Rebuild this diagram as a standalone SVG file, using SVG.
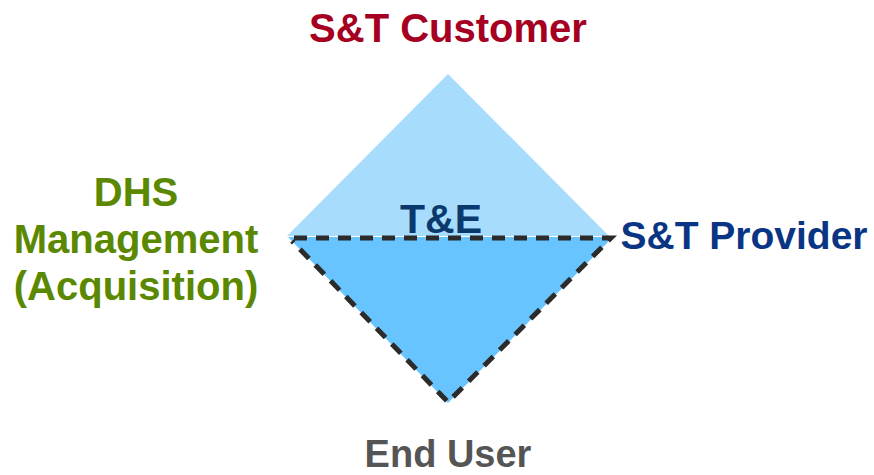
<svg xmlns="http://www.w3.org/2000/svg" width="874" height="475" viewBox="0 0 874 475">
<style>
text{font-family:"Liberation Sans",Arial,sans-serif;font-weight:bold;text-anchor:middle}
.dash{fill:none;stroke:#2b2b2b;stroke-width:5;stroke-dasharray:13 9}
</style>
<rect width="874" height="475" fill="#ffffff"/>
<g id="top-triangle">
<polygon points="448,74 287,236 609,236" fill="#A7DCFD"/>
</g>
<g id="bottom-triangle">
<polygon points="288,237 613,237 448,403" fill="#67C4FE"/>
</g>
<g id="connectors">
<path class="dash" d="M294,238 L611,238 L448,402 L292,241"/>
</g>
<g id="te"><text x="441" y="233" font-size="41" fill="#0A3A6C">T&amp;E</text></g>
<g id="customer"><text x="448" y="42" font-size="40" fill="#A50021">S&amp;T Customer</text></g>
<g id="provider"><text x="744" y="249" font-size="39" fill="#0A3585">S&amp;T Provider</text></g>
<g id="enduser"><text x="448" y="467" font-size="38" fill="#555555">End User</text></g>
<g id="dhs">
<text x="136" y="206" font-size="40" fill="#5A8800">DHS</text>
<text x="136" y="253" font-size="40" fill="#5A8800">Management</text>
<text x="136" y="300" font-size="40" fill="#5A8800">(Acquisition)</text>
</g>
</svg>
